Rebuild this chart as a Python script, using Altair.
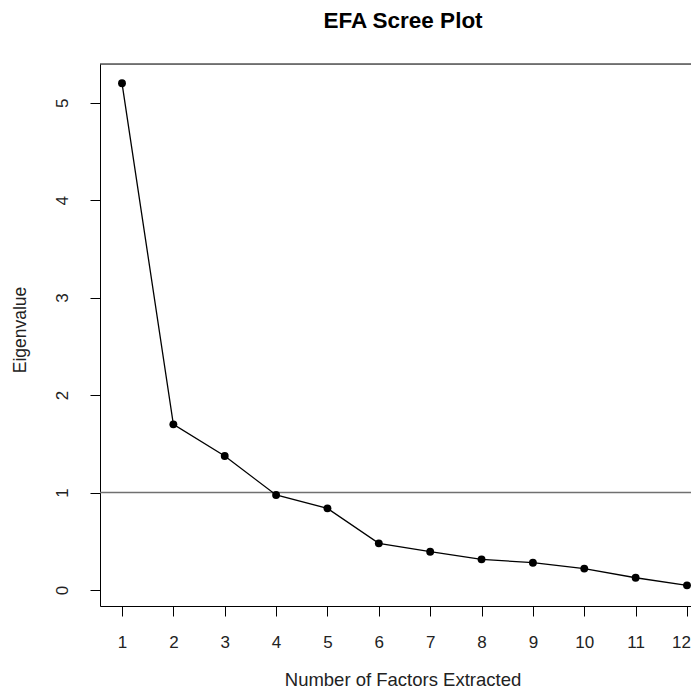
import altair as alt
import pandas as pd

factors = [1, 2, 3, 4, 5, 6, 7, 8, 9, 10, 11, 12]
eigenvalues = [5.20, 1.70, 1.375, 0.975, 0.838, 0.479, 0.393, 0.315, 0.28, 0.22, 0.126, 0.048]
x_ticks = [1, 2, 3, 4, 5, 6, 7, 8, 9, 10, 11, 12]
y_ticks = [0, 1, 2, 3, 4, 5]
cutoff = [1]
title_text = ["EFA Scree Plot"]

df = pd.DataFrame({"factor": factors, "eig": eigenvalues})
cut_df = pd.DataFrame({"y": cutoff})
title_df = pd.DataFrame({"t": title_text})

FONT = "Liberation Sans"
W, H = 591, 542

xscale = alt.Scale(domain=[0.5717, 12.078], nice=False, zero=False)
yscale = alt.Scale(domain=[-0.164, 5.397], nice=False, zero=False)

xaxis = alt.Axis(
    values=x_ticks, format="d", grid=False, domain=True, domainColor="black",
    domainWidth=1, tickColor="black", tickSize=10, tickWidth=1,
    labelFont=FONT, labelFontSize=17, labelColor="#222", labelBaseline="alphabetic",
    labelPadding=31, labelAngle=0,
    labelOffset=alt.condition("datum.value == 12", alt.value(-6), alt.value(0)),
    title="Number of Factors Extracted", titleFont=FONT, titleFontSize=18.5,
    titleFontWeight="normal", titleColor="#222", titleX=302.5, titleY=79,
    titleAlign="center", titleBaseline="alphabetic",
)
yaxis = alt.Axis(
    values=y_ticks, format="d", grid=False, domain=True, domainColor="black",
    domainWidth=1, tickColor="black", tickSize=10, tickWidth=1,
    labelFont=FONT, labelFontSize=17, labelColor="#222", labelAngle=270,
    labelAlign="center", labelBaseline="alphabetic", labelPadding=23,
    title="Eigenvalue", titleFont=FONT, titleFontSize=17.5, titleFontWeight="normal",
    titleColor="#222", titleAngle=270, titleX=-80, titleY=265.5,
    titleAlign="center", titleBaseline="middle",
)

base = alt.Chart(df)

line = base.mark_line(color="black", strokeWidth=1.3).encode(
    x=alt.X("factor:Q", scale=xscale, axis=xaxis),
    y=alt.Y("eig:Q", scale=yscale, axis=yaxis),
)
points = base.mark_circle(color="black", size=62, opacity=1).encode(
    x=alt.X("factor:Q", scale=xscale),
    y=alt.Y("eig:Q", scale=yscale),
)
hline = alt.Chart(cut_df).mark_rule(color="#707070", strokeWidth=1.5).encode(
    y=alt.Y("y:Q", scale=yscale)
)
top_border = alt.Chart(cut_df).mark_rule(color="black", strokeWidth=1).encode(
    x=alt.value(0), x2=alt.value(W), y=alt.value(0)
)
title = alt.Chart(title_df).mark_text(
    font=FONT, fontSize=22.5, fontWeight="bold", color="black",
    align="center", baseline="alphabetic",
).encode(text="t:N", x=alt.value(303), y=alt.value(-36))

chart = alt.layer(hline, line, points, top_border, title).properties(
    width=W,
    height=H,
    autosize=alt.AutoSizeParams(type="none"),
    padding={"left": 92, "top": 56, "right": 0, "bottom": 82},
).configure_view(stroke="transparent").configure(background="white")

chart.save("out.html", embed_options={"renderer": "svg", "actions": False})
